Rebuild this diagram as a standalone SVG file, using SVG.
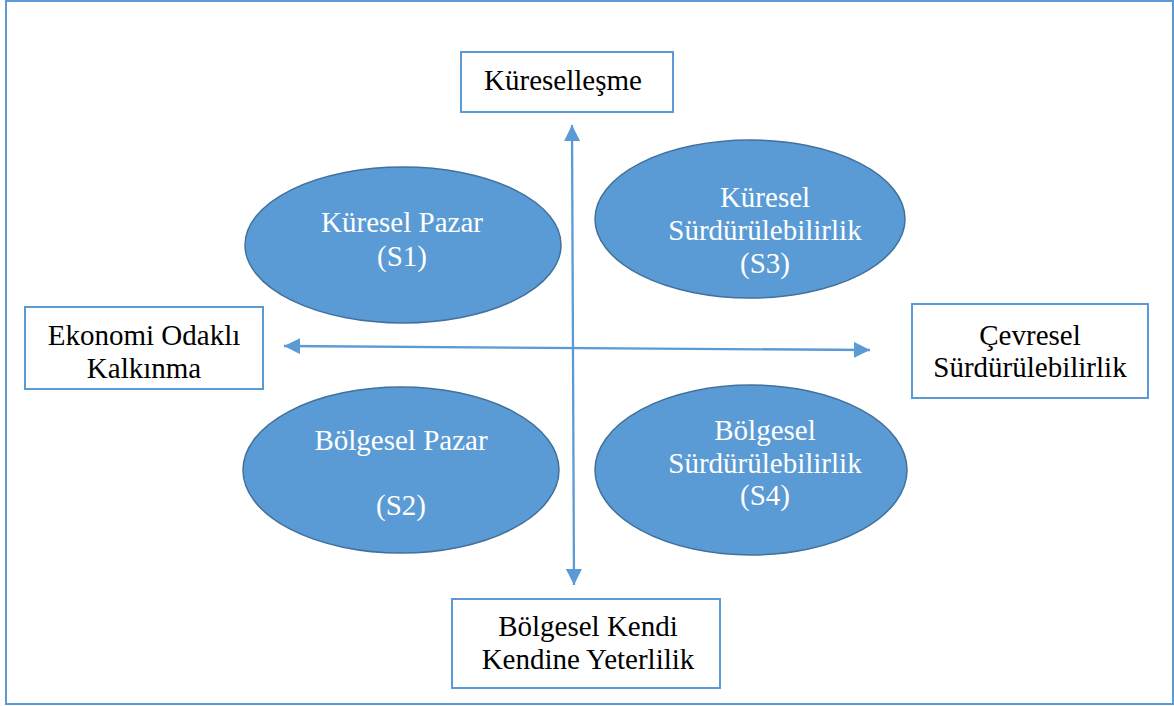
<svg xmlns="http://www.w3.org/2000/svg" width="1174" height="706" viewBox="0 0 1174 706">
  <defs>
    <marker id="head" viewBox="0 0 10 10" refX="10" refY="5" markerWidth="7" markerHeight="7" markerUnits="strokeWidth" orient="auto-start-reverse">
      <path d="M0,0 L10,5 L0,10 Z" fill="#5B9BD5"/>
    </marker>
  </defs>
  <style>
    .frame { fill: #FFFFFF; stroke: #5B9BD5; stroke-width: 2; }
    .box { fill: #FFFFFF; stroke: #5B9BD5; stroke-width: 2; }
    .oval { fill: #5B9BD5; stroke: #41719C; stroke-width: 1.5; }
    .axis { fill: none; stroke: #5B9BD5; stroke-width: 2.3; marker-start: url(#head); marker-end: url(#head); }
    .label { font-family: 'Liberation Serif', 'Times New Roman', serif; font-size: 29px; text-anchor: middle; }
    .dark { fill: #000000; }
    .light { fill: #FFFFFF; }
  </style>

  <rect class="frame" x="6" y="1" width="1167" height="703"/>

  <!-- axes -->
  <g id="connectors">
    <path class="axis" d="M572,125 L574,585"/>
    <path class="axis" d="M284,346 L870,350"/>
  </g>

  <g id="s1" class="label">
    <ellipse class="oval" cx="403" cy="245" rx="158" ry="78"/>
    <text class="light" x="402" y="232">Küresel Pazar</text>
    <text class="light" x="402" y="266">(S1)</text>
  </g>

  <g id="s3" class="label">
    <ellipse class="oval" cx="750" cy="219" rx="155" ry="79"/>
    <text class="light" x="765" y="207">Küresel</text>
    <text class="light" x="765" y="240">Sürdürülebilirlik</text>
    <text class="light" x="765" y="273">(S3)</text>
  </g>

  <g id="s2" class="label">
    <ellipse class="oval" cx="401" cy="470" rx="158" ry="83"/>
    <text class="light" x="401" y="450">Bölgesel Pazar</text>
    <text class="light" x="401" y="515">(S2)</text>
  </g>

  <g id="s4" class="label">
    <ellipse class="oval" cx="751" cy="470" rx="156" ry="85"/>
    <text class="light" x="765" y="440">Bölgesel</text>
    <text class="light" x="765" y="473">Sürdürülebilirlik</text>
    <text class="light" x="765" y="505">(S4)</text>
  </g>

  <g id="globalisation" class="label">
    <rect class="box" x="461" y="52" width="212" height="60"/>
    <text class="dark" x="563" y="90">Küreselleşme</text>
  </g>

  <g id="economy" class="label">
    <rect class="box" x="25" y="307" width="238" height="82"/>
    <text class="dark" x="144" y="345">Ekonomi Odaklı</text>
    <text class="dark" x="144" y="378">Kalkınma</text>
  </g>

  <g id="environment" class="label">
    <rect class="box" x="912" y="304" width="236" height="94"/>
    <text class="dark" x="1030" y="345">Çevresel</text>
    <text class="dark" x="1030" y="377">Sürdürülebilirlik</text>
  </g>

  <g id="regional" class="label">
    <rect class="box" x="452" y="599" width="268" height="89"/>
    <text class="dark" x="588" y="636">Bölgesel Kendi</text>
    <text class="dark" x="588" y="669">Kendine Yeterlilik</text>
  </g>
</svg>
